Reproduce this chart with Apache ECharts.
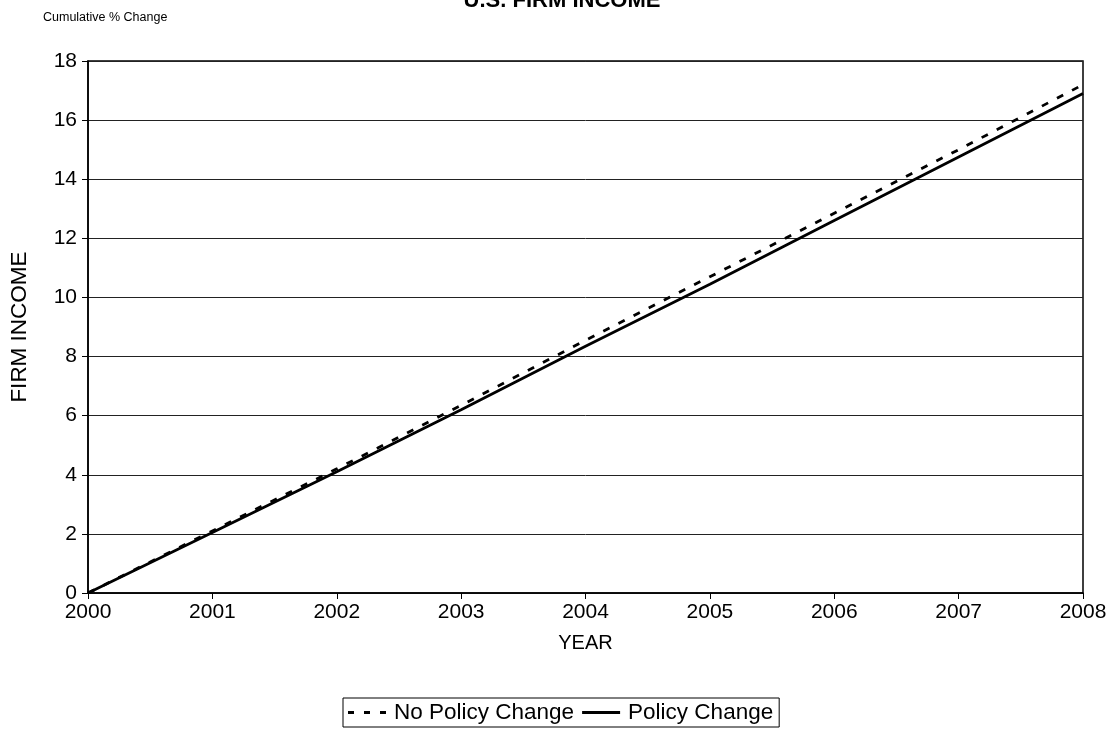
<!DOCTYPE html>
<html>
<head>
<meta charset="utf-8">
<style>
  html, body { margin: 0; padding: 0; background: #fff; }
  #chart { width: 1119px; height: 735px; }
</style>
<script src="https://cdn.jsdelivr.net/npm/echarts@6/dist/echarts.min.js"></script>
</head>
<body>
<div id="chart"></div>
<script>
// Years on the horizontal axis
const years = ['2000', '2001', '2002', '2003', '2004', '2005', '2006', '2007', '2008'];
// Cumulative % change in firm income, baseline path
const noPolicyChange = [0, 2.1, 4.2, 6.35, 8.55, 10.7, 12.85, 15.0, 17.2];
// Cumulative % change in firm income with the policy in place
const policyChange = [0, 2.05, 4.1, 6.2, 8.35, 10.45, 12.6, 14.75, 16.9];

const FONT = '"Liberation Sans", Arial, sans-serif';

// Legend keys: three short dashes, and one solid bar
const DASH_ICON = 'path://M0,0h6v3h-6z M16,0h6v3h-6z M32,0h6v3h-6z';
const SOLID_ICON = 'path://M0,0h38v3h-38z';

const chart = echarts.init(document.getElementById('chart'), null, { renderer: 'canvas' });

chart.setOption({
  backgroundColor: '#ffffff',
  animation: false,
  textStyle: { fontFamily: FONT, color: '#000' },
  title: [
    {
      text: 'U.S. FIRM INCOME',
      left: 557, top: -15,
      textAlign: 'center',
      textStyle: { fontFamily: FONT, fontSize: 22, fontWeight: 'bold', color: '#000' }
    },
    {
      text: 'Cumulative % Change',
      left: 38, top: 6,
      textStyle: { fontFamily: FONT, fontSize: 12.5, fontWeight: 'normal', color: '#000' }
    }
  ],
  grid: { left: 88, right: 36, top: 61, bottom: 142, show: true, borderColor: '#000', borderWidth: 1.5, backgroundColor: 'transparent' },
  xAxis: {
    type: 'category',
    data: years,
    boundaryGap: false,
    name: 'YEAR',
    nameLocation: 'middle',
    nameGap: 40,
    nameTextStyle: { fontFamily: FONT, fontSize: 20, color: '#000' },
    axisLine: { lineStyle: { color: '#000', width: 1.5 } },
    axisTick: { show: true, length: 6, lineStyle: { color: '#000', width: 1 } },
    axisLabel: { fontFamily: FONT, fontSize: 21, color: '#000', margin: 9 },
    splitLine: { show: false }
  },
  yAxis: {
    type: 'value',
    min: 0, max: 18, interval: 2,
    name: 'FIRM INCOME',
    nameLocation: 'middle',
    nameGap: 57,
    nameRotate: 90,
    nameTextStyle: { fontFamily: FONT, fontSize: 22.5, color: '#000' },
    axisLine: { show: true, lineStyle: { color: '#000', width: 1.5 } },
    axisTick: { show: true, length: 6, lineStyle: { color: '#000', width: 1 } },
    axisLabel: { fontFamily: FONT, fontSize: 21, color: '#000', margin: 11 },
    splitLine: { show: true, lineStyle: { color: '#222', width: 1 } }
  },
  legend: {
    left: 343, top: 698,
    padding: [3, 6, 3, 5],
    itemGap: 8,
    itemWidth: 44,
    itemHeight: 3,
    borderColor: '#000',
    borderWidth: 1,
    borderRadius: 0,
    textStyle: { fontFamily: FONT, fontSize: 22.5, color: '#000', padding: [0, 0, 0, 0] },
    data: [
      { name: 'No Policy Change', icon: DASH_ICON },
      { name: 'Policy Change', icon: SOLID_ICON }
    ]
  },
  series: [
    {
      name: 'No Policy Change',
      type: 'line',
      data: noPolicyChange,
      symbol: 'none',
      lineStyle: { color: '#000', width: 2.8, type: [7, 10] },
      itemStyle: { color: '#000' },
      z: 3
    },
    {
      name: 'Policy Change',
      type: 'line',
      data: policyChange,
      symbol: 'none',
      lineStyle: { color: '#000', width: 2.8, type: 'solid' },
      itemStyle: { color: '#000' },
      z: 4
    }
  ]
});
</script>
</body>
</html>
